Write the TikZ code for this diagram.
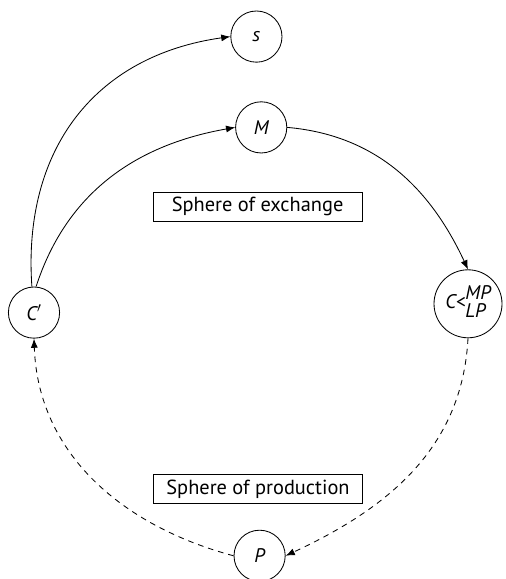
\documentclass[tikz,border=0pt]{standalone}
\usepackage{fontspec}
\setmainfont{PT Sans}
\usetikzlibrary{arrows.meta}
\begin{document}
\begin{tikzpicture}[>={Latex[length=6.5pt,width=5pt]},
        stage/.style={circle,draw,line width=0.6pt,minimum size=1.28cm,inner sep=0pt,
            font=\fontsize{14}{16}\selectfont\itshape},
        sphere/.style={draw,line width=0.6pt,minimum width=5.22cm,minimum height=0.72cm,
            inner sep=0pt,font=\fontsize{14.5}{17}\selectfont},
        flow/.style={->,line width=0.6pt},
        dashflow/.style={->,line width=0.6pt,dash pattern=on 4pt off 3.5pt}]
\useasboundingbox (0,0) rectangle (12.625,14.475);

\node[stage] at (6.41,13.56) (s) {s};
\node[stage] at (6.53,11.29) (M) {M};
\node[stage] at (0.85,6.66) (Cprime) {C$'$};
\node[stage,minimum size=1.7cm] at (11.7,6.88) (C)
    {C<\begin{tabular}{@{}l@{}}MP\\[-3pt]LP\end{tabular}};
\node[stage] at (6.49,0.58) (P) {P};

\node[sphere] at (6.44,9.31) (exch) {Sphere of exchange};
\node[sphere] at (6.45,2.25) (prod) {Sphere of production};

\draw[flow] ([xshift=-1.5pt]Cprime.north) to[out=94,in=188,looseness=1.1] (s.west);
\draw[flow] ([xshift=1.5pt]Cprime.north) to[out=72,in=190] (M.west);
\draw[flow] (M.east) to[out=-5,in=115] (C.north);
\draw[dashflow] (C.south) to[out=-93,in=25] (P.east);
\draw[dashflow] (P.west) to[out=165,in=-88] (Cprime.south);
\end{tikzpicture}
\end{document}
